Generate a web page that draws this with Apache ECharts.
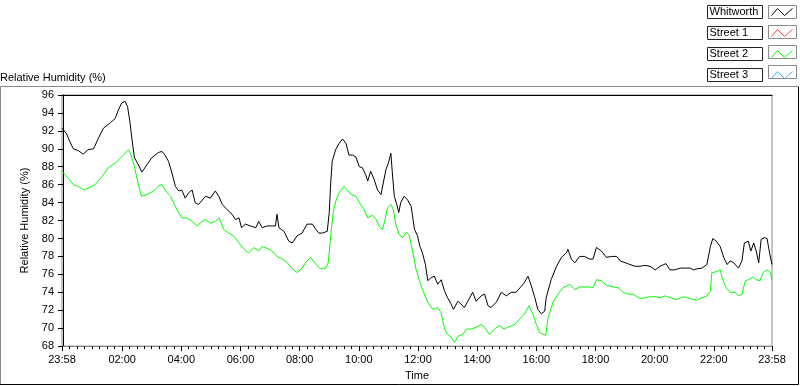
<!DOCTYPE html>
<html>
<head>
<meta charset="utf-8">
<script src="https://cdn.jsdelivr.net/npm/echarts@6/dist/echarts.min.js"></script>
<style>
  html, body { margin: 0; padding: 0; background: #fff; }
  #chart { width: 800px; height: 386px; }
</style>
</head>
<body>
<div id="chart"></div>
<script>
// time in minutes after midnight (-2 = 23:58 the day before), RH in %
const whitworth = [[-2,92.3],[7,91.7],[14,90.8],[21,90.0],[31,89.8],[41,89.4],[51,89.9],[62,90.0],[72,91.2],[82,92.3],[96,92.9],[106,93.4],[112,94.3],[119,95.1],[126,95.3],[131,94.7],[136,92.9],[140,91.0],[145,89.0],[153,88.2],[160,87.4],[170,88.2],[180,89.0],[194,89.6],[201,89.7],[207,89.3],[214,88.6],[221,87.3],[228,85.8],[235,85.3],[241,85.4],[248,84.5],[255,85.1],[262,85.4],[268,84.0],[275,83.8],[289,84.7],[299,84.5],[309,85.3],[316,84.7],[323,83.8],[333,83.2],[343,82.7],[350,82.1],[357,82.3],[362,81.2],[370,81.6],[380,81.4],[391,81.2],[397,81.9],[404,81.2],[414,81.4],[424,81.4],[431,81.4],[434,82.7],[438,81.2],[448,80.8],[458,79.7],[465,79.5],[475,80.3],[485,80.6],[495,81.6],[506,81.6],[513,81.0],[519,80.6],[526,80.6],[536,80.8],[540,82.9],[543,86.2],[546,88.6],[553,89.9],[560,90.6],[567,91.1],[574,90.6],[580,89.3],[587,89.3],[594,89.1],[601,88.0],[607,87.9],[614,87.1],[618,86.4],[624,87.5],[631,86.6],[638,85.4],[645,84.9],[649,84.8],[655,87.7],[660,88.4],[665,89.5],[668,87.3],[672,84.7],[677,83.8],[681,82.9],[685,84.0],[692,84.7],[699,84.3],[706,83.6],[713,81.0],[719,80.3],[724,79.1],[729,78.4],[735,77.1],[740,75.3],[746,75.6],[753,75.8],[760,74.9],[767,75.4],[774,74.1],[780,73.4],[787,72.7],[792,72.1],[801,73.0],[807,72.7],[814,72.3],[821,73.0],[831,74.0],[838,73.0],[848,73.6],[855,73.8],[862,72.5],[868,72.3],[879,72.9],[889,74.0],[899,73.6],[909,74.0],[919,74.0],[930,74.7],[936,75.1],[943,75.8],[950,74.7],[957,73.4],[963,72.1],[970,71.6],[977,71.9],[980,73.4],[990,75.4],[1001,76.9],[1011,77.9],[1021,78.4],[1024,78.8],[1031,77.7],[1038,77.3],[1048,78.0],[1058,78.0],[1068,77.7],[1075,77.7],[1082,79.0],[1092,78.6],[1102,77.9],[1113,78.0],[1123,78.0],[1130,77.5],[1140,77.3],[1150,77.1],[1160,76.9],[1170,76.9],[1180,77.0],[1191,76.9],[1201,76.5],[1211,76.9],[1223,77.2],[1231,76.5],[1241,76.5],[1252,76.7],[1262,76.7],[1272,76.7],[1279,76.5],[1285,76.6],[1296,76.7],[1306,77.1],[1313,79.1],[1318,80.0],[1325,79.7],[1333,79.1],[1340,77.9],[1347,77.1],[1353,77.5],[1360,77.3],[1370,76.7],[1377,77.5],[1382,79.5],[1390,79.7],[1395,78.6],[1401,79.5],[1406,78.6],[1411,77.3],[1416,79.9],[1422,80.1],[1428,80.0],[1433,78.4],[1438,77.1]];
const street1 = [];
const street2 = [[-2,87.5],[11,86.7],[21,86.0],[31,85.8],[43,85.4],[55,85.7],[65,86.0],[79,86.9],[92,87.9],[106,88.4],[119,89.1],[133,89.9],[138,89.3],[145,88.0],[152,86.2],[159,84.7],[170,84.9],[184,85.3],[194,85.9],[201,86.0],[207,85.4],[218,84.7],[226,83.8],[233,83.0],[241,82.3],[251,82.3],[262,81.9],[272,81.4],[282,81.9],[289,82.1],[299,81.7],[309,81.9],[317,82.3],[326,81.0],[336,80.6],[346,80.3],[357,79.5],[367,78.8],[377,78.4],[387,79.0],[397,78.6],[404,79.1],[414,78.9],[424,78.6],[434,78.0],[445,77.7],[455,77.3],[465,76.6],[475,76.2],[485,76.7],[495,77.5],[502,77.9],[513,77.1],[523,76.6],[533,76.7],[538,77.3],[543,80.3],[548,82.9],[553,84.1],[560,85.1],[570,85.8],[577,85.4],[584,84.9],[594,84.7],[601,84.0],[611,83.2],[618,82.3],[628,82.6],[635,82.1],[641,81.4],[648,81.0],[654,82.3],[658,83.4],[665,83.8],[670,83.2],[675,81.6],[682,80.4],[689,80.1],[696,80.7],[702,80.4],[709,78.6],[716,76.6],[723,75.3],[729,74.3],[740,72.9],[750,72.1],[760,72.3],[767,71.7],[774,69.9],[780,69.3],[787,69.0],[794,68.4],[801,69.1],[811,69.3],[818,69.9],[828,69.9],[838,70.1],[848,70.4],[855,70.1],[865,69.3],[875,69.9],[885,70.3],[895,69.9],[906,70.2],[916,70.4],[926,71.0],[936,71.6],[945,72.5],[952,71.7],[960,70.4],[967,69.5],[979,69.2],[984,71.2],[994,72.9],[1004,73.8],[1014,74.5],[1028,74.9],[1038,74.3],[1048,74.6],[1058,74.6],[1068,74.6],[1075,74.5],[1082,75.4],[1092,75.3],[1102,74.8],[1116,74.6],[1126,74.5],[1136,74.0],[1146,73.8],[1156,73.8],[1170,73.3],[1180,73.4],[1191,73.5],[1201,73.5],[1211,73.4],[1221,73.6],[1231,73.4],[1245,73.2],[1258,73.5],[1272,73.3],[1285,73.1],[1296,73.4],[1306,73.6],[1313,74.1],[1316,76.2],[1326,76.3],[1333,76.5],[1338,75.4],[1345,74.5],[1353,74.0],[1363,74.0],[1370,73.6],[1377,73.8],[1384,75.3],[1390,75.4],[1399,75.7],[1406,75.4],[1414,75.3],[1420,76.2],[1428,76.5],[1435,76.2],[1438,75.4]];
const street3 = [];

const seriesNames = ["Whitworth", "Street 1", "Street 2", "Street 3"];
const seriesColors = ["#000000", "#ff4040", "#00ff00", "#40b0ff"];

const tickValues = [-2, 120, 240, 360, 480, 600, 720, 840, 960, 1080, 1200, 1320, 1438];
const tickLabels = ["23:58", "02:00", "04:00", "06:00", "08:00", "10:00", "12:00", "14:00", "16:00", "18:00", "20:00", "22:00", "23:58"];

// minor ticks: 7 between each pair of labelled ticks
const minorTicks = [];
for (let i = 0; i < tickValues.length - 1; i++) {
  const a = tickValues[i], b = tickValues[i + 1];
  for (let k = 1; k < 8; k++) minorTicks.push(a + (b - a) * k / 8);
}

const FONT = "Liberation Sans";
const chart = echarts.init(document.getElementById("chart"));

const option = {
  animation: false,
  backgroundColor: "#fff",
  textStyle: { fontFamily: FONT, fontSize: 11, color: "#000" },
  title: {
    text: "Relative Humidity (%)",
    left: 0,
    top: 72,
    padding: 0,
    textStyle: { fontFamily: FONT, fontSize: 11, fontWeight: "normal", color: "#000" },
  },
  legend: {
    data: seriesNames.map((name, i) => ({
      name: name,
      // transparent fill keeps the icon's bounding box at itemWidth x itemHeight
      itemStyle: { color: "transparent", borderColor: seriesColors[i], borderWidth: 1 },
    })),
    orient: "vertical",
    right: 3,
    top: 5,
    padding: 0,
    itemGap: 7,
    itemWidth: 29,
    itemHeight: 13,
    align: "right",
    symbolKeepAspect: false,
    icon: "path://M0,0L0.01,0M29,13L28.99,13M4,10L10,3L17,10L25,3",
    formatter: "{n|{name}}",
    textStyle: {
      fontFamily: FONT,
      fontSize: 11,
      color: "#000",
      padding: [1, 2, 1, 2],
      borderColor: "#222",
      borderWidth: 1,
      rich: {
        n: { width: 51, align: "left", fontFamily: FONT, fontSize: 11, lineHeight: 11, color: "#000" },
      },
    },
  },
  grid: {
    left: 62,
    top: 95,
    right: 28,
    bottom: 39,
    show: true,
    borderColor: "#8a8a8a",
    borderWidth: 1,
  },
  xAxis: [
    {
      type: "value",
      min: -2,
      max: 1438,
      name: "Time",
      nameLocation: "middle",
      nameGap: 22,
      nameTextStyle: { fontFamily: FONT, fontSize: 11, color: "#000" },
      axisLine: { lineStyle: { color: "#8a8a8a", width: 1 } },
      axisTick: { show: true, customValues: tickValues, length: 5, lineStyle: { color: "#000" } },
      axisLabel: {
        customValues: tickValues,
        margin: 8,
        color: "#000",
        fontFamily: FONT,
        fontSize: 11,
        formatter: (v) => tickLabels[tickValues.indexOf(v)] || "",
      },
      splitLine: { show: false },
    },
    {
      type: "value",
      min: -2,
      max: 1438,
      position: "bottom",
      axisLine: { show: false },
      axisTick: { show: true, customValues: minorTicks, length: 3, lineStyle: { color: "#000" } },
      axisLabel: { show: false },
      splitLine: { show: false },
    },
    {
      type: "value",
      min: -2,
      max: 1438,
      position: "top",
      axisLine: { show: true, lineStyle: { color: "#000", width: 1 } },
      axisTick: { show: false },
      axisLabel: { show: false },
      splitLine: { show: false },
    },
  ],
  yAxis: {
    type: "value",
    min: 68,
    max: 96,
    interval: 2,
    name: "Relative Humidity (%)",
    nameLocation: "middle",
    nameGap: 31,
    nameTextStyle: { fontFamily: FONT, fontSize: 11, color: "#000" },
    axisLine: { show: true, lineStyle: { color: "#000", width: 1 } },
    axisTick: { show: true, length: 5, lineStyle: { color: "#000" } },
    axisLabel: { margin: 8, color: "#000", fontFamily: FONT, fontSize: 11 },
    splitLine: { show: false },
  },
  graphic: [
    // outer panel frame
    { type: "polyline", shape: { points: [[0.5, 385], [0.5, 86.5], [798, 86.5]] }, style: { stroke: "#8a8a8a", fill: null, lineWidth: 1 } },
    { type: "polyline", shape: { points: [[0, 384.5], [798.5, 384.5], [798.5, 86.5]] }, style: { stroke: "#000", fill: null, lineWidth: 1 } },
    // legend swatch boxes
    { type: "rect", shape: { x: 768.5, y: 5.5, width: 28, height: 13 }, style: { stroke: "#8a8a8a", fill: null, lineWidth: 1 } },
    { type: "rect", shape: { x: 768.5, y: 25.5, width: 28, height: 13 }, style: { stroke: "#8a8a8a", fill: null, lineWidth: 1 } },
    { type: "rect", shape: { x: 768.5, y: 45.5, width: 28, height: 13 }, style: { stroke: "#8a8a8a", fill: null, lineWidth: 1 } },
    { type: "rect", shape: { x: 768.5, y: 65.5, width: 28, height: 13 }, style: { stroke: "#8a8a8a", fill: null, lineWidth: 1 } },
  ],
  series: [
    { name: seriesNames[0], type: "line", data: whitworth, symbol: "none", color: seriesColors[0], lineStyle: { width: 1, color: seriesColors[0] } },
    { name: seriesNames[1], type: "line", data: street1, symbol: "none", color: seriesColors[1], lineStyle: { width: 1, color: seriesColors[1] } },
    { name: seriesNames[2], type: "line", data: street2, symbol: "none", color: seriesColors[2], lineStyle: { width: 1, color: seriesColors[2] } },
    { name: seriesNames[3], type: "line", data: street3, symbol: "none", color: seriesColors[3], lineStyle: { width: 1, color: seriesColors[3] } },
  ],
};

chart.setOption(option);
</script>
</body>
</html>
